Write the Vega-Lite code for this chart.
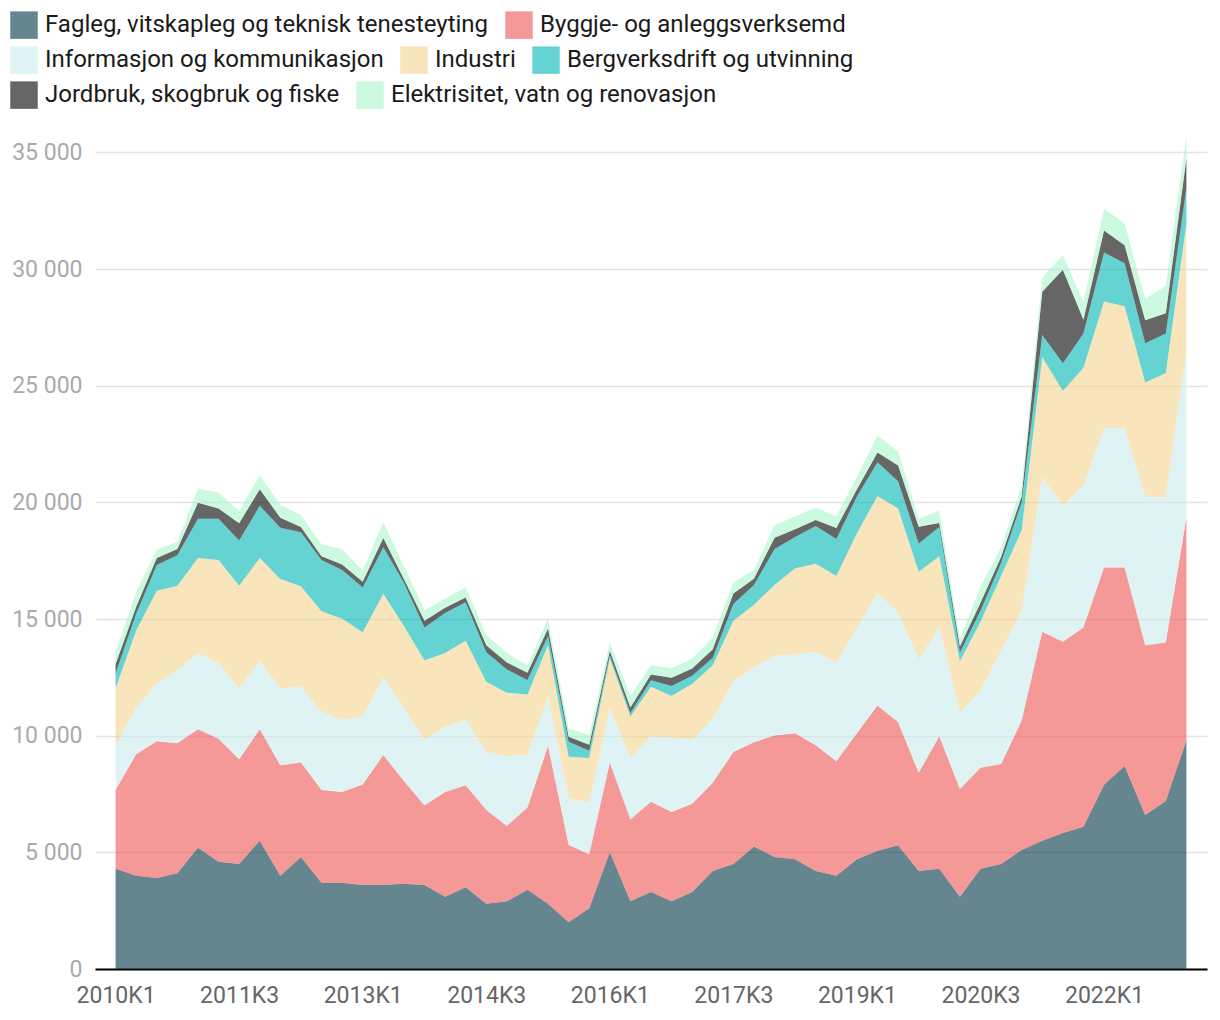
{
  "$schema": "https://vega.github.io/schema/vega-lite/v6.json",
  "width": 1112,
  "height": 840,
  "autosize": {"type": "none"},
  "padding": {"left": 95, "top": 129, "right": 13, "bottom": 51},
  "datasets": {
    "series": [
      {"s": "F", "name": "Fagleg, vitskapleg og teknisk tenesteyting", "o": 0},
      {"s": "B", "name": "Byggje- og anleggsverksemd", "o": 1},
      {"s": "I", "name": "Informasjon og kommunikasjon", "o": 2},
      {"s": "N", "name": "Industri", "o": 3},
      {"s": "G", "name": "Bergverksdrift og utvinning", "o": 4},
      {"s": "J", "name": "Jordbruk, skogbruk og fiske", "o": 5},
      {"s": "E", "name": "Elektrisitet, vatn og renovasjon", "o": 6}
    ],
    "d": [
      {"q":"2010K1","s":"F","v":4300},{"q":"2010K1","s":"B","v":3370},{"q":"2010K1","s":"I","v":1890},{"q":"2010K1","s":"N","v":2470},{"q":"2010K1","s":"G","v":630},{"q":"2010K1","s":"J","v":400},{"q":"2010K1","s":"E","v":510},
      {"q":"2010K2","s":"F","v":4000},{"q":"2010K2","s":"B","v":5200},{"q":"2010K2","s":"I","v":2010},{"q":"2010K2","s":"N","v":3300},{"q":"2010K2","s":"G","v":710},{"q":"2010K2","s":"J","v":310},{"q":"2010K2","s":"E","v":630},
      {"q":"2010K3","s":"F","v":3900},{"q":"2010K3","s":"B","v":5860},{"q":"2010K3","s":"I","v":2470},{"q":"2010K3","s":"N","v":3980},{"q":"2010K3","s":"G","v":1100},{"q":"2010K3","s":"J","v":300},{"q":"2010K3","s":"E","v":360},
      {"q":"2010K4","s":"F","v":4100},{"q":"2010K4","s":"B","v":5580},{"q":"2010K4","s":"I","v":3130},{"q":"2010K4","s":"N","v":3620},{"q":"2010K4","s":"G","v":1300},{"q":"2010K4","s":"J","v":270},{"q":"2010K4","s":"E","v":310},
      {"q":"2011K1","s":"F","v":5200},{"q":"2011K1","s":"B","v":5070},{"q":"2011K1","s":"I","v":3250},{"q":"2011K1","s":"N","v":4090},{"q":"2011K1","s":"G","v":1690},{"q":"2011K1","s":"J","v":680},{"q":"2011K1","s":"E","v":610},
      {"q":"2011K2","s":"F","v":4600},{"q":"2011K2","s":"B","v":5270},{"q":"2011K2","s":"I","v":3260},{"q":"2011K2","s":"N","v":4400},{"q":"2011K2","s":"G","v":1770},{"q":"2011K2","s":"J","v":440},{"q":"2011K2","s":"E","v":670},
      {"q":"2011K3","s":"F","v":4500},{"q":"2011K3","s":"B","v":4490},{"q":"2011K3","s":"I","v":3040},{"q":"2011K3","s":"N","v":4400},{"q":"2011K3","s":"G","v":1930},{"q":"2011K3","s":"J","v":740},{"q":"2011K3","s":"E","v":520},
      {"q":"2011K4","s":"F","v":5500},{"q":"2011K4","s":"B","v":4770},{"q":"2011K4","s":"I","v":2940},{"q":"2011K4","s":"N","v":4400},{"q":"2011K4","s":"G","v":2240},{"q":"2011K4","s":"J","v":710},{"q":"2011K4","s":"E","v":600},
      {"q":"2012K1","s":"F","v":4000},{"q":"2012K1","s":"B","v":4730},{"q":"2012K1","s":"I","v":3300},{"q":"2012K1","s":"N","v":4680},{"q":"2012K1","s":"G","v":2200},{"q":"2012K1","s":"J","v":430},{"q":"2012K1","s":"E","v":550},
      {"q":"2012K2","s":"F","v":4800},{"q":"2012K2","s":"B","v":4050},{"q":"2012K2","s":"I","v":3250},{"q":"2012K2","s":"N","v":4300},{"q":"2012K2","s":"G","v":2320},{"q":"2012K2","s":"J","v":220},{"q":"2012K2","s":"E","v":520},
      {"q":"2012K3","s":"F","v":3700},{"q":"2012K3","s":"B","v":3970},{"q":"2012K3","s":"I","v":3350},{"q":"2012K3","s":"N","v":4310},{"q":"2012K3","s":"G","v":2200},{"q":"2012K3","s":"J","v":160},{"q":"2012K3","s":"E","v":510},
      {"q":"2012K4","s":"F","v":3700},{"q":"2012K4","s":"B","v":3890},{"q":"2012K4","s":"I","v":3100},{"q":"2012K4","s":"N","v":4320},{"q":"2012K4","s":"G","v":2090},{"q":"2012K4","s":"J","v":240},{"q":"2012K4","s":"E","v":660},
      {"q":"2013K1","s":"F","v":3600},{"q":"2013K1","s":"B","v":4310},{"q":"2013K1","s":"I","v":2910},{"q":"2013K1","s":"N","v":3610},{"q":"2013K1","s":"G","v":1920},{"q":"2013K1","s":"J","v":250},{"q":"2013K1","s":"E","v":470},
      {"q":"2013K2","s":"F","v":3600},{"q":"2013K2","s":"B","v":5570},{"q":"2013K2","s":"I","v":3330},{"q":"2013K2","s":"N","v":3580},{"q":"2013K2","s":"G","v":2000},{"q":"2013K2","s":"J","v":390},{"q":"2013K2","s":"E","v":680},
      {"q":"2013K3","s":"F","v":3650},{"q":"2013K3","s":"B","v":4410},{"q":"2013K3","s":"I","v":3150},{"q":"2013K3","s":"N","v":3490},{"q":"2013K3","s":"G","v":1850},{"q":"2013K3","s":"J","v":160},{"q":"2013K3","s":"E","v":550},
      {"q":"2013K4","s":"F","v":3600},{"q":"2013K4","s":"B","v":3410},{"q":"2013K4","s":"I","v":2820},{"q":"2013K4","s":"N","v":3390},{"q":"2013K4","s":"G","v":1420},{"q":"2013K4","s":"J","v":290},{"q":"2013K4","s":"E","v":440},
      {"q":"2014K1","s":"F","v":3100},{"q":"2014K1","s":"B","v":4490},{"q":"2014K1","s":"I","v":2790},{"q":"2014K1","s":"N","v":3160},{"q":"2014K1","s":"G","v":1720},{"q":"2014K1","s":"J","v":220},{"q":"2014K1","s":"E","v":400},
      {"q":"2014K2","s":"F","v":3500},{"q":"2014K2","s":"B","v":4380},{"q":"2014K2","s":"I","v":2810},{"q":"2014K2","s":"N","v":3380},{"q":"2014K2","s":"G","v":1650},{"q":"2014K2","s":"J","v":200},{"q":"2014K2","s":"E","v":440},
      {"q":"2014K3","s":"F","v":2800},{"q":"2014K3","s":"B","v":4010},{"q":"2014K3","s":"I","v":2500},{"q":"2014K3","s":"N","v":3000},{"q":"2014K3","s":"G","v":1260},{"q":"2014K3","s":"J","v":310},{"q":"2014K3","s":"E","v":430},
      {"q":"2014K4","s":"F","v":2900},{"q":"2014K4","s":"B","v":3230},{"q":"2014K4","s":"I","v":2990},{"q":"2014K4","s":"N","v":2720},{"q":"2014K4","s":"G","v":1000},{"q":"2014K4","s":"J","v":300},{"q":"2014K4","s":"E","v":400},
      {"q":"2015K1","s":"F","v":3400},{"q":"2015K1","s":"B","v":3520},{"q":"2015K1","s":"I","v":2280},{"q":"2015K1","s":"N","v":2560},{"q":"2015K1","s":"G","v":630},{"q":"2015K1","s":"J","v":310},{"q":"2015K1","s":"E","v":320},
      {"q":"2015K2","s":"F","v":2800},{"q":"2015K2","s":"B","v":6760},{"q":"2015K2","s":"I","v":2120},{"q":"2015K2","s":"N","v":2200},{"q":"2015K2","s":"G","v":390},{"q":"2015K2","s":"J","v":320},{"q":"2015K2","s":"E","v":420},
      {"q":"2015K3","s":"F","v":2000},{"q":"2015K3","s":"B","v":3310},{"q":"2015K3","s":"I","v":2020},{"q":"2015K3","s":"N","v":1770},{"q":"2015K3","s":"G","v":640},{"q":"2015K3","s":"J","v":210},{"q":"2015K3","s":"E","v":360},
      {"q":"2015K4","s":"F","v":2600},{"q":"2015K4","s":"B","v":2320},{"q":"2015K4","s":"I","v":2200},{"q":"2015K4","s":"N","v":1920},{"q":"2015K4","s":"G","v":310},{"q":"2015K4","s":"J","v":260},{"q":"2015K4","s":"E","v":420},
      {"q":"2016K1","s":"F","v":5000},{"q":"2016K1","s":"B","v":3850},{"q":"2016K1","s":"I","v":2330},{"q":"2016K1","s":"N","v":2130},{"q":"2016K1","s":"G","v":140},{"q":"2016K1","s":"J","v":190},{"q":"2016K1","s":"E","v":360},
      {"q":"2016K2","s":"F","v":2900},{"q":"2016K2","s":"B","v":3510},{"q":"2016K2","s":"I","v":2630},{"q":"2016K2","s":"N","v":1780},{"q":"2016K2","s":"G","v":150},{"q":"2016K2","s":"J","v":240},{"q":"2016K2","s":"E","v":500},
      {"q":"2016K3","s":"F","v":3300},{"q":"2016K3","s":"B","v":3870},{"q":"2016K3","s":"I","v":2810},{"q":"2016K3","s":"N","v":2120},{"q":"2016K3","s":"G","v":280},{"q":"2016K3","s":"J","v":240},{"q":"2016K3","s":"E","v":400},
      {"q":"2016K4","s":"F","v":2900},{"q":"2016K4","s":"B","v":3830},{"q":"2016K4","s":"I","v":3180},{"q":"2016K4","s":"N","v":1790},{"q":"2016K4","s":"G","v":430},{"q":"2016K4","s":"J","v":350},{"q":"2016K4","s":"E","v":410},
      {"q":"2017K1","s":"F","v":3300},{"q":"2017K1","s":"B","v":3780},{"q":"2017K1","s":"I","v":2730},{"q":"2017K1","s":"N","v":2420},{"q":"2017K1","s":"G","v":340},{"q":"2017K1","s":"J","v":310},{"q":"2017K1","s":"E","v":430},
      {"q":"2017K2","s":"F","v":4200},{"q":"2017K2","s":"B","v":3780},{"q":"2017K2","s":"I","v":2770},{"q":"2017K2","s":"N","v":2270},{"q":"2017K2","s":"G","v":320},{"q":"2017K2","s":"J","v":360},{"q":"2017K2","s":"E","v":510},
      {"q":"2017K3","s":"F","v":4500},{"q":"2017K3","s":"B","v":4800},{"q":"2017K3","s":"I","v":3020},{"q":"2017K3","s":"N","v":2610},{"q":"2017K3","s":"G","v":710},{"q":"2017K3","s":"J","v":450},{"q":"2017K3","s":"E","v":490},
      {"q":"2017K4","s":"F","v":5250},{"q":"2017K4","s":"B","v":4470},{"q":"2017K4","s":"I","v":3210},{"q":"2017K4","s":"N","v":2680},{"q":"2017K4","s":"G","v":850},{"q":"2017K4","s":"J","v":260},{"q":"2017K4","s":"E","v":370},
      {"q":"2018K1","s":"F","v":4800},{"q":"2018K1","s":"B","v":5210},{"q":"2018K1","s":"I","v":3420},{"q":"2018K1","s":"N","v":3030},{"q":"2018K1","s":"G","v":1540},{"q":"2018K1","s":"J","v":480},{"q":"2018K1","s":"E","v":540},
      {"q":"2018K2","s":"F","v":4700},{"q":"2018K2","s":"B","v":5400},{"q":"2018K2","s":"I","v":3380},{"q":"2018K2","s":"N","v":3700},{"q":"2018K2","s":"G","v":1330},{"q":"2018K2","s":"J","v":340},{"q":"2018K2","s":"E","v":550},
      {"q":"2018K3","s":"F","v":4200},{"q":"2018K3","s":"B","v":5390},{"q":"2018K3","s":"I","v":4010},{"q":"2018K3","s":"N","v":3770},{"q":"2018K3","s":"G","v":1620},{"q":"2018K3","s":"J","v":250},{"q":"2018K3","s":"E","v":530},
      {"q":"2018K4","s":"F","v":4000},{"q":"2018K4","s":"B","v":4900},{"q":"2018K4","s":"I","v":4240},{"q":"2018K4","s":"N","v":3700},{"q":"2018K4","s":"G","v":1590},{"q":"2018K4","s":"J","v":470},{"q":"2018K4","s":"E","v":500},
      {"q":"2019K1","s":"F","v":4700},{"q":"2019K1","s":"B","v":5400},{"q":"2019K1","s":"I","v":4520},{"q":"2019K1","s":"N","v":4060},{"q":"2019K1","s":"G","v":1570},{"q":"2019K1","s":"J","v":310},{"q":"2019K1","s":"E","v":540},
      {"q":"2019K2","s":"F","v":5070},{"q":"2019K2","s":"B","v":6220},{"q":"2019K2","s":"I","v":4800},{"q":"2019K2","s":"N","v":4180},{"q":"2019K2","s":"G","v":1450},{"q":"2019K2","s":"J","v":420},{"q":"2019K2","s":"E","v":720},
      {"q":"2019K3","s":"F","v":5300},{"q":"2019K3","s":"B","v":5280},{"q":"2019K3","s":"I","v":4720},{"q":"2019K3","s":"N","v":4440},{"q":"2019K3","s":"G","v":1160},{"q":"2019K3","s":"J","v":680},{"q":"2019K3","s":"E","v":600},
      {"q":"2019K4","s":"F","v":4200},{"q":"2019K4","s":"B","v":4210},{"q":"2019K4","s":"I","v":4850},{"q":"2019K4","s":"N","v":3770},{"q":"2019K4","s":"G","v":1210},{"q":"2019K4","s":"J","v":710},{"q":"2019K4","s":"E","v":350},
      {"q":"2020K1","s":"F","v":4300},{"q":"2020K1","s":"B","v":5680},{"q":"2020K1","s":"I","v":4690},{"q":"2020K1","s":"N","v":3020},{"q":"2020K1","s":"G","v":1250},{"q":"2020K1","s":"J","v":170},{"q":"2020K1","s":"E","v":540},
      {"q":"2020K2","s":"F","v":3100},{"q":"2020K2","s":"B","v":4610},{"q":"2020K2","s":"I","v":3290},{"q":"2020K2","s":"N","v":2190},{"q":"2020K2","s":"G","v":370},{"q":"2020K2","s":"J","v":260},{"q":"2020K2","s":"E","v":330},
      {"q":"2020K3","s":"F","v":4300},{"q":"2020K3","s":"B","v":4320},{"q":"2020K3","s":"I","v":3290},{"q":"2020K3","s":"N","v":2970},{"q":"2020K3","s":"G","v":470},{"q":"2020K3","s":"J","v":350},{"q":"2020K3","s":"E","v":680},
      {"q":"2020K4","s":"F","v":4500},{"q":"2020K4","s":"B","v":4290},{"q":"2020K4","s":"I","v":4860},{"q":"2020K4","s":"N","v":3190},{"q":"2020K4","s":"G","v":560},{"q":"2020K4","s":"J","v":260},{"q":"2020K4","s":"E","v":420},
      {"q":"2021K1","s":"F","v":5100},{"q":"2021K1","s":"B","v":5550},{"q":"2021K1","s":"I","v":4700},{"q":"2021K1","s":"N","v":3450},{"q":"2021K1","s":"G","v":1200},{"q":"2021K1","s":"J","v":250},{"q":"2021K1","s":"E","v":450},
      {"q":"2021K2","s":"F","v":5500},{"q":"2021K2","s":"B","v":8950},{"q":"2021K2","s":"I","v":6650},{"q":"2021K2","s":"N","v":5130},{"q":"2021K2","s":"G","v":940},{"q":"2021K2","s":"J","v":1860},{"q":"2021K2","s":"E","v":590},
      {"q":"2021K3","s":"F","v":5830},{"q":"2021K3","s":"B","v":8200},{"q":"2021K3","s":"I","v":5820},{"q":"2021K3","s":"N","v":4920},{"q":"2021K3","s":"G","v":1190},{"q":"2021K3","s":"J","v":4010},{"q":"2021K3","s":"E","v":630},
      {"q":"2021K4","s":"F","v":6100},{"q":"2021K4","s":"B","v":8540},{"q":"2021K4","s":"I","v":6070},{"q":"2021K4","s":"N","v":5060},{"q":"2021K4","s":"G","v":1470},{"q":"2021K4","s":"J","v":580},{"q":"2021K4","s":"E","v":750},
      {"q":"2022K1","s":"F","v":7900},{"q":"2022K1","s":"B","v":9310},{"q":"2022K1","s":"I","v":5990},{"q":"2022K1","s":"N","v":5410},{"q":"2022K1","s":"G","v":2100},{"q":"2022K1","s":"J","v":940},{"q":"2022K1","s":"E","v":930},
      {"q":"2022K2","s":"F","v":8700},{"q":"2022K2","s":"B","v":8510},{"q":"2022K2","s":"I","v":5990},{"q":"2022K2","s":"N","v":5200},{"q":"2022K2","s":"G","v":1850},{"q":"2022K2","s":"J","v":770},{"q":"2022K2","s":"E","v":930},
      {"q":"2022K3","s":"F","v":6600},{"q":"2022K3","s":"B","v":7270},{"q":"2022K3","s":"I","v":6370},{"q":"2022K3","s":"N","v":4900},{"q":"2022K3","s":"G","v":1680},{"q":"2022K3","s":"J","v":980},{"q":"2022K3","s":"E","v":930},
      {"q":"2022K4","s":"F","v":7200},{"q":"2022K4","s":"B","v":6790},{"q":"2022K4","s":"I","v":6250},{"q":"2022K4","s":"N","v":5300},{"q":"2022K4","s":"G","v":1700},{"q":"2022K4","s":"J","v":860},{"q":"2022K4","s":"E","v":1170},
      {"q":"2023K1","s":"F","v":9800},{"q":"2023K1","s":"B","v":9550},{"q":"2023K1","s":"I","v":7120},{"q":"2023K1","s":"N","v":5480},{"q":"2023K1","s":"G","v":1520},{"q":"2023K1","s":"J","v":1280},{"q":"2023K1","s":"E","v":980}
    ]
  },
  "data": {"name": "d"},
  "transform": [
    {"lookup": "s", "from": {"data": {"name": "series"}, "key": "s", "fields": ["name", "o"]}},
    {"stack": "v", "groupby": ["q"], "sort": [{"field": "o", "order": "ascending"}], "as": ["y0", "y1"]}
  ],
  "encoding": {
    "x": {
      "field": "q", "type": "ordinal",
      "scale": {"type": "point", "padding": 1},
      "axis": {
        "title": null,
        "values": ["2010K1", "2011K3", "2013K1", "2014K3", "2016K1", "2017K3", "2019K1", "2020K3", "2022K1"],
        "labelAngle": 0, "grid": false, "ticks": false, "tickSize": 0,
        "domainColor": "#000000", "domainWidth": 2,
        "labelPadding": 15, "labelFontSize": 23, "labelColor": "#666666", "labelFont": "Roboto"
      }
    },
    "y": {
      "field": "y1", "type": "quantitative",
      "scale": {"domain": [0, 36000], "nice": false},
      "axis": {
        "title": null,
        "values": [0, 5000, 10000, 15000, 20000, 25000, 30000, 35000],
        "domain": false, "ticks": false, "tickSize": 0,
        "labelPadding": 13, "labelFontSize": 23, "labelColor": "#aaaaaa", "labelFont": "Roboto",
        "gridColor": "#e3e3e3", "gridWidth": 1.5,
        "labelExpr": "replace(format(datum.value, ','), ',', ' ')"
      }
    },
    "y2": {"field": "y0"}
  },
  "layer": [
    {
      "transform": [{"filter": {"field": "s", "oneOf": ["F", "B"]}}],
      "mark": {"type": "area", "opacity": 0.6, "interpolate": "linear"},
      "encoding": {
        "color": {
          "field": "name", "type": "nominal",
          "scale": {"domain": ["Fagleg, vitskapleg og teknisk tenesteyting", "Byggje- og anleggsverksemd"], "range": ["#003544", "#ee5353"]},
          "legend": {"title": null, "orient": "none", "direction": "horizontal", "legendX": -85, "legendY": -118}
        }
      }
    },
    {
      "transform": [{"filter": {"field": "s", "oneOf": ["I", "N", "G"]}}],
      "mark": {"type": "area", "opacity": 0.6, "interpolate": "linear"},
      "encoding": {
        "color": {
          "field": "name", "type": "nominal",
          "scale": {"domain": ["Informasjon og kommunikasjon", "Industri", "Bergverksdrift og utvinning"], "range": ["#caebed", "#f5d48e", "#00b6b6"]},
          "legend": {"title": null, "orient": "none", "direction": "horizontal", "legendX": -85, "legendY": -83}
        }
      }
    },
    {
      "transform": [{"filter": {"field": "s", "oneOf": ["J", "E"]}}],
      "mark": {"type": "area", "opacity": 0.6, "interpolate": "linear"},
      "encoding": {
        "color": {
          "field": "name", "type": "nominal",
          "scale": {"domain": ["Jordbruk, skogbruk og fiske", "Elektrisitet, vatn og renovasjon"], "range": ["#000000", "#aaf7cb"]},
          "legend": {"title": null, "orient": "none", "direction": "horizontal", "legendX": -85, "legendY": -48}
        }
      }
    }
  ],
  "resolve": {"scale": {"color": "independent"}},
  "config": {
    "font": "Roboto",
    "view": {"stroke": null},
    "legend": {
      "labelFont": "Roboto", "labelFontSize": 24, "labelColor": "#1a1a1a", "labelLimit": 1000,
      "symbolType": "square", "symbolSize": 756, "symbolStrokeWidth": 0, "symbolOpacity": 0.6,
      "columnPadding": 16, "labelOffset": 7, "padding": 0
    }
  }
}
